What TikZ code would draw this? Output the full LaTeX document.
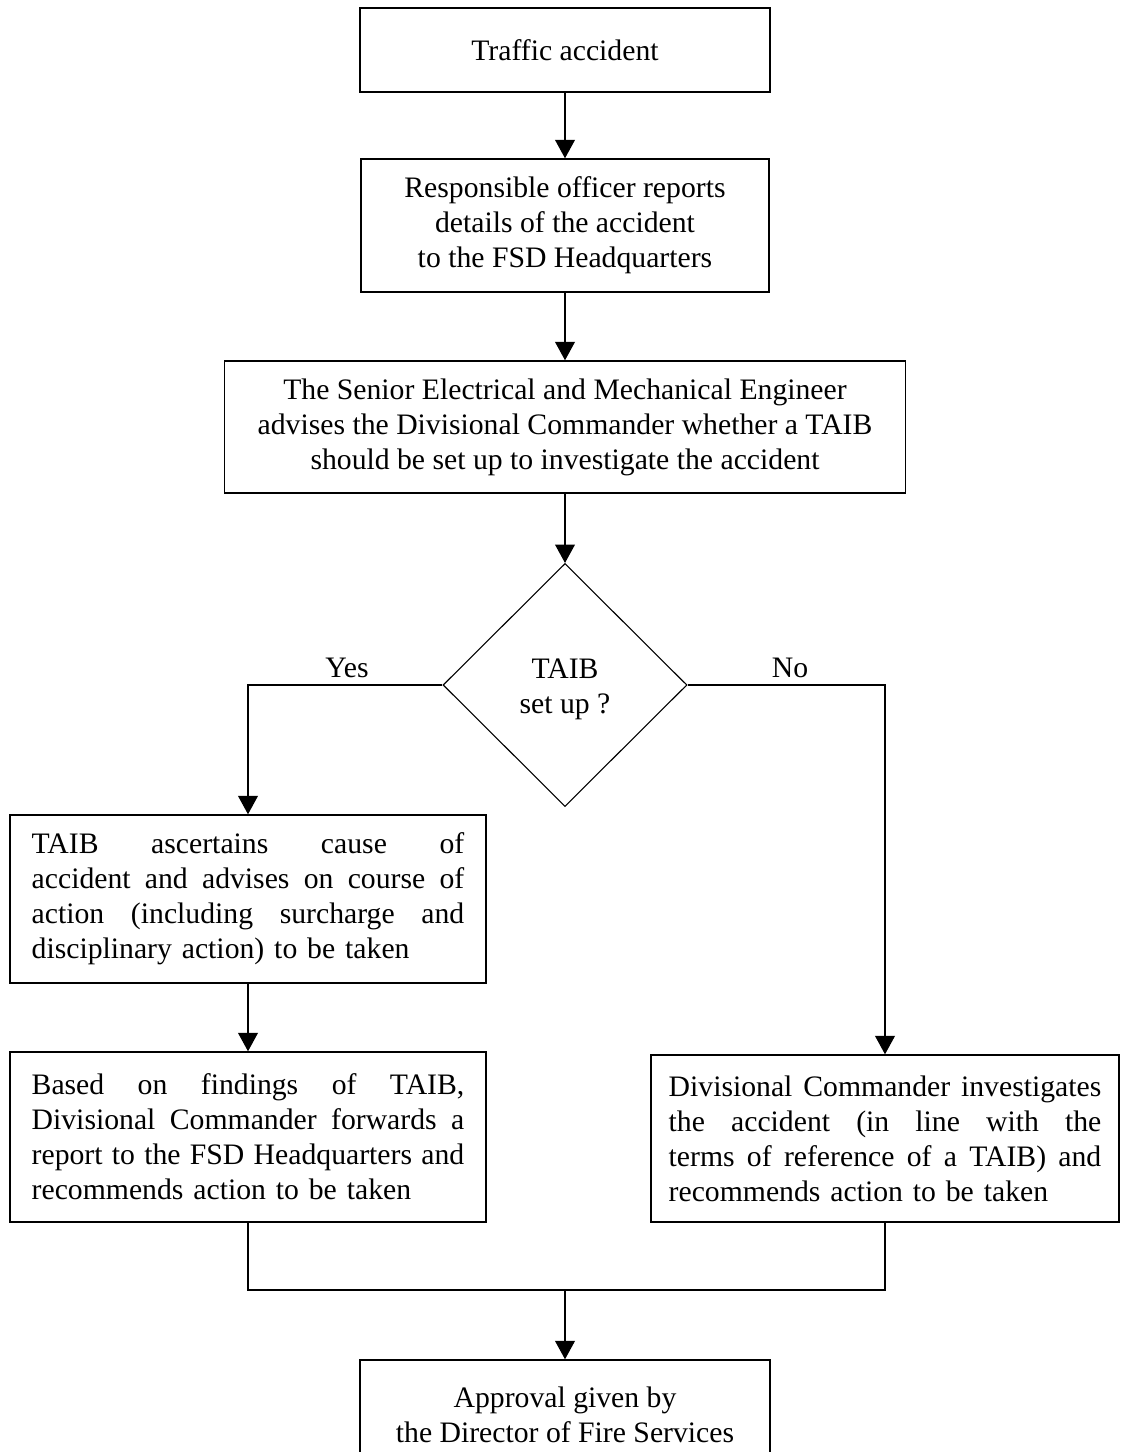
\documentclass[tikz,border=0pt]{standalone}
\usepackage{fontspec}
\setmainfont{Liberation Serif}
\usetikzlibrary{shapes.geometric,arrows.meta}
\def\u{0.41237pt}
\newlength\tw
\setlength\tw{178.4pt}
\newcommand\jline[1]{\makebox[\tw][l]{#1}}
\begin{document}
\begin{tikzpicture}[x=0.41237pt,y=-0.41237pt,
  box/.style={draw,line width=0.6pt,inner sep=0pt,align=center,
    font=\fontsize{12.25}{14.45}\selectfont},
  jbox/.style={box,align=left,text width=\tw},
  conn/.style={line width=0.45pt},
  arr/.style={conn,-{Triangle[width=8.2pt,length=7.6pt]}},
  lbl/.style={inner sep=0pt,anchor=base,font=\fontsize{12.25}{14.45}\selectfont}]
\useasboundingbox (0,0) rectangle (1120,1452);
\clip (0,0) rectangle (1120,1452);

\node[box,minimum width=410*\u,minimum height=84*\u] (b1) at (565,50) {Traffic accident};
\node[box,minimum width=408*\u,minimum height=133*\u] (b2) at (565,225.5)
  {Responsible officer reports\\details of the accident\\to the FSD Headquarters};
\node[box,minimum width=681*\u,minimum height=132*\u] (b3) at (565,427)
  {The Senior Electrical and Mechanical Engineer\\advises the Divisional Commander whether a TAIB\\should be set up to investigate the accident};
\node[draw,diamond,line width=0.45pt,inner sep=0pt,
  minimum width=244*\u,minimum height=243*\u] (d) at (565,685) {};
\node[inner sep=0pt,align=center,font=\fontsize{12.25}{14.45}\selectfont] (dt) at (565,689) {TAIB\\set up ?};
\node[jbox,minimum width=476*\u,minimum height=168*\u] (b4) at (248,899)
  {\jline{TAIB\hfill ascertains\hfill cause\hfill of}\\
   \jline{accident\hfill and\hfill advises\hfill on\hfill course\hfill of}\\
   \jline{action\hfill (including\hfill surcharge\hfill and}\\
   disciplinary action) to be taken};
\node[jbox,minimum width=476*\u,minimum height=170*\u] (b5) at (248,1137)
  {\jline{Based\hfill on\hfill findings\hfill of\hfill TAIB,}\\
   \jline{Divisional\hfill Commander\hfill forwards\hfill a}\\
   \jline{report\hfill to\hfill the\hfill FSD\hfill Headquarters\hfill and}\\
   recommends action to be taken};
\node[jbox,minimum width=468*\u,minimum height=167*\u] (b6) at (885,1138.5)
  {\jline{Divisional\hfill Commander\hfill investigates}\\
   \jline{the\hfill accident\hfill (in\hfill line\hfill with\hfill the}\\
   \jline{terms\hfill of\hfill reference\hfill of\hfill a\hfill TAIB)\hfill and}\\
   recommends action to be taken};
\node[box,minimum width=410*\u,minimum height=110*\u] (b7) at (565,1415)
  {Approval given by\\the Director of Fire Services};

\node[lbl] (yes) at (347,677) {Yes};
\node[lbl] (no) at (790,677) {No};
\coordinate (m) at (565,1290);

\draw[arr] (b1.south) -- (b2.north);
\draw[arr] (b2.south) -- (b3.north);
\draw[arr] (b3.south) -- (d.north);
\draw[arr] (d.west) -| (b4.north);
\draw[arr] (d.east) -| (b6.north);
\draw[arr] (b4.south) -- (b5.north);
\draw[conn] (b5.south) |- (m) -| (b6.south);
\draw[arr] (m) -- (b7.north);
\end{tikzpicture}
\end{document}
